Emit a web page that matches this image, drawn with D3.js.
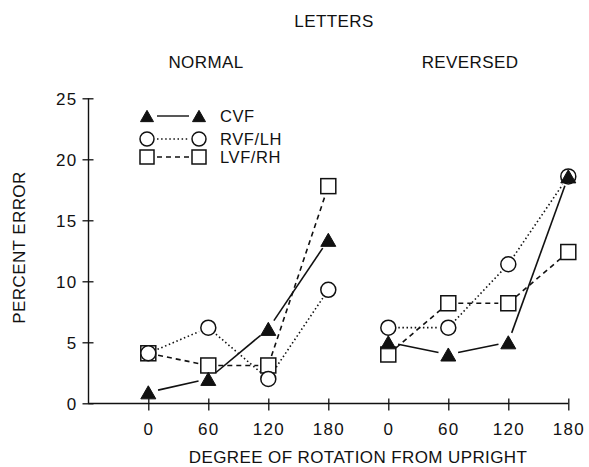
<!DOCTYPE html>
<html><head><meta charset="utf-8">
<script src="https://cdn.jsdelivr.net/npm/d3@7"></script>
<style>
body{margin:0;background:#fff;}
text{font-family:"Liberation Sans",Arial,sans-serif;fill:#111;}
</style></head>
<body>
<svg id="c" width="589" height="467"></svg>
<script>
// ---- data ----
const categories = ["0","60","120","180"];
const panels = ["NORMAL","REVERSED"];
const yTicks = [0,5,10,15,20,25];
const cvfNormal   = [0.9, 2.0, 6.1, 13.4];
const cvfReversed = [5.0, 4.0, 5.0, 18.6];
const rvfNormal   = [4.1, 6.2, 2.0, 9.3];
const rvfReversed = [6.2, 6.2, 11.4, 18.6];
const lvfNormal   = [4.1, 3.1, 3.1, 17.8];
const lvfReversed = [4.0, 8.2, 8.2, 12.4];
const seriesNames = ["CVF","RVF/LH","LVF/RH"];

const series = [
  {name:"LVF/RH", shape:"square",   dash:"5,4",     values:[lvfNormal,lvfReversed]},
  {name:"RVF/LH", shape:"circle",   dash:"1.5,2.6", values:[rvfNormal,rvfReversed]},
  {name:"CVF",    shape:"triangle", dash:null,      values:[cvfNormal,cvfReversed]}
];

const svg = d3.select("#c");
const x = d3.scaleLinear().domain([-1,7]).range([88.3,568.3]);
const y = d3.scaleLinear().domain([0,25]).range([403.3,98.3]);
const idx = (p,i)=> p*categories.length + i;

// axes
const yAxis = svg.append("g").attr("transform","translate(88.5,0)")
  .call(d3.axisLeft(y).tickValues(yTicks).tickSize(6).tickPadding(6));
yAxis.select(".domain").attr("d",`M0,${y(25)}V${y(0)}`).attr("stroke","#111").attr("stroke-width",1.4);
yAxis.selectAll(".tick line").attr("x1",5).attr("x2",-6).attr("stroke","#111").attr("stroke-width",1.3);
yAxis.selectAll(".tick text").attr("font-size",17).attr("letter-spacing","1.3px").attr("fill","#111")
  .attr("font-family","Liberation Sans, Arial, sans-serif").attr("x",-11).attr("dy","0.36em");

const xTickVals = d3.range(panels.length*categories.length);
const xAxis = svg.append("g").attr("transform","translate(0,403.5)")
  .call(d3.axisBottom(x).tickValues(xTickVals).tickFormat(d=>categories[d%categories.length]).tickSize(6));
xAxis.select(".domain").attr("d",`M${x(-1)},0H${x(7)}`).attr("stroke","#111").attr("stroke-width",1.4);
xAxis.selectAll(".tick line").attr("y1",-5).attr("y2",7).attr("stroke","#111").attr("stroke-width",1.3);
xAxis.selectAll(".tick text").attr("font-size",17).attr("letter-spacing","1.3px").attr("fill","#111")
  .attr("font-family","Liberation Sans, Arial, sans-serif").attr("y",19).attr("dy","0.71em");

// titles
const T = (t,xx,yy,opts={})=>{
  const e = svg.append("text").attr("x",xx).attr("y",yy).attr("text-anchor","middle")
    .attr("font-size",opts.size||17).attr("letter-spacing","0.4px").text(t);
  if(opts.rot) e.attr("transform",`rotate(-90,${xx},${yy})`);
  return e;
};
T("LETTERS",334,27);
T(panels[0],206,68);
T(panels[1],470,68);
T("DEGREE OF ROTATION FROM UPRIGHT",358,463);
T("PERCENT ERROR",25,247.5,{rot:true});

// marker drawing
function marker(g, shape, cx, cy, s){
  if(shape==="circle"){
    g.append("circle").attr("cx",cx).attr("cy",cy).attr("r",s/2)
      .attr("fill","#fff").attr("stroke","#111").attr("stroke-width",1.5);
  } else if(shape==="square"){
    g.append("rect").attr("x",cx-s/2).attr("y",cy-s/2).attr("width",s).attr("height",s)
      .attr("fill","#fff").attr("stroke","#111").attr("stroke-width",1.5);
  } else {
    const h = s*0.87;
    g.append("path").attr("d",`M${cx},${cy-h/2}L${cx+s/2},${cy+h/2}L${cx-s/2},${cy+h/2}Z`)
      .attr("fill","#111").attr("stroke","#111").attr("stroke-width",1);
  }
}
function segment(g, x1,y1,x2,y2,gap,dash){
  const dx=x2-x1, dy=y2-y1, L=Math.hypot(dx,dy);
  if(L<=2*gap) return;
  const ux=dx/L, uy=dy/L;
  const l = g.append("line").attr("x1",x1+ux*gap).attr("y1",y1+uy*gap)
    .attr("x2",x2-ux*gap).attr("y2",y2-uy*gap)
    .attr("stroke","#111").attr("stroke-width",1.6);
  if(dash) l.attr("stroke-dasharray",dash);
}

const lineG = svg.append("g");
const markG = svg.append("g");
series.forEach(s=>{
  s.values.forEach((vals,p)=>{
    for(let i=0;i<vals.length-1;i++){
      segment(lineG, x(idx(p,i)), y(vals[i]), x(idx(p,i+1)), y(vals[i+1]), 10, s.dash);
    }
  });
});
series.forEach(s=>{
  s.values.forEach((vals,p)=>{
    vals.forEach((v,i)=> marker(markG, s.shape, x(idx(p,i)), y(v), 15));
  });
});

// legend
const legend = svg.append("g");
const legRows = [
  {name:seriesNames[0], shape:"triangle", dash:null,     cy:116},
  {name:seriesNames[1], shape:"circle",   dash:"1.5,2.6",cy:139},
  {name:seriesNames[2], shape:"square",   dash:"5,4",    cy:157}
];
legRows.forEach(r=>{
  const lx1=147, lx2=199;
  legend.append("line").attr("x1",lx1+10).attr("x2",lx2-10).attr("y1",r.cy).attr("y2",r.cy)
    .attr("stroke","#111").attr("stroke-width",1.4).attr("stroke-dasharray",r.dash);
  marker(legend, r.shape, lx1, r.cy, r.shape==="triangle"?13:14);
  marker(legend, r.shape, lx2, r.cy, r.shape==="triangle"?13:14);
  legend.append("text").attr("x",220).attr("y",r.cy+5.5).attr("font-size",16.5)
    .attr("letter-spacing","0.6px").text(r.name);
});
</script>
</body></html>
